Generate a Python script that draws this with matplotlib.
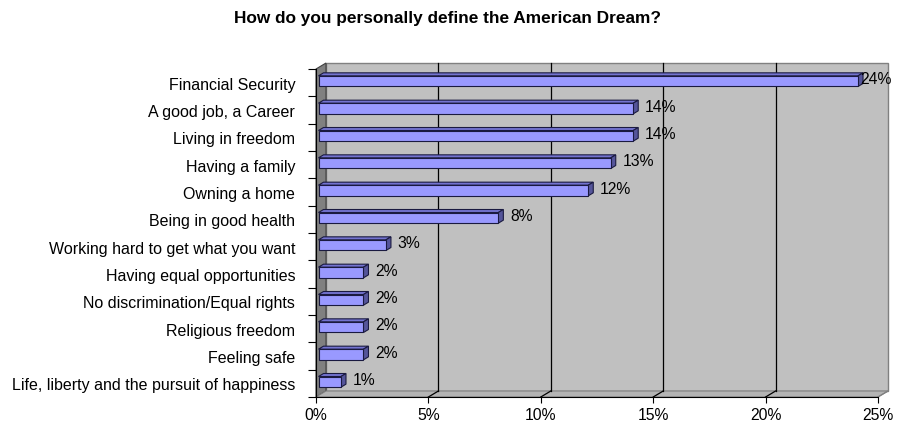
import matplotlib.pyplot as plt
from matplotlib.patches import Polygon
from matplotlib.ticker import FuncFormatter

plt.rcParams['font.family'] = ['Liberation Sans', 'DejaVu Sans']

categories = [
    "Financial Security",
    "A good job, a Career",
    "Living in freedom",
    "Having a family",
    "Owning a home",
    "Being in good health",
    "Working hard to get what you want",
    "Having equal opportunities",
    "No discrimination/Equal rights",
    "Religious freedom",
    "Feeling safe",
    "Life, liberty and the pursuit of happiness",
]
values = [24, 14, 14, 13, 12, 8, 3, 2, 2, 2, 2, 1]
xticks = [0, 5, 10, 15, 20, 25]

n = len(categories)
xmax = 25

fig = plt.figure(figsize=(8.98, 4.27), dpi=100)
ax = fig.add_axes([316 / 898, 29 / 427, 562 / 898, 328 / 427])
ax.set_xlim(0, xmax)
ax.set_ylim(n, 0)
ax.set_facecolor('none')

# 3D depth offset (data units)
dx = 10 / (562 / xmax)
dy = 6 / (328 / n)


def poly(pts, fc, ec, lw=0.8, z=1):
    p = Polygon(pts, closed=True, facecolor=fc, edgecolor=ec, linewidth=lw,
                zorder=z, clip_on=False)
    ax.add_patch(p)


# walls and floor
poly([(dx, -dy), (xmax + dx, -dy), (xmax + dx, n - dy), (dx, n - dy)],
     '#C0C0C0', '#808080', 1.0, 0)
poly([(0, 0), (dx, -dy), (dx, n - dy), (0, n)], '#808080', '#404040', 0.8, 0)
poly([(0, n), (dx, n - dy), (xmax + dx, n - dy), (xmax, n)],
     '#B4B4B4', '#808080', 0.8, 0)

# gridlines on back wall and floor
for t in xticks[1:-1]:
    ax.plot([t + dx, t + dx], [-dy, n - dy], color='black', lw=0.9,
            zorder=0.5, clip_on=False)
for t in xticks[1:]:
    ax.plot([t, t + dx], [n, n - dy], color='black' if t < xmax else '#808080',
            lw=0.9, zorder=0.5, clip_on=False)

# bars
h = 0.195
bx, by = 0.5 * dx, 0.5 * dy
for i, v in enumerate(values):
    x0 = 0.25 * dx
    c = i + 0.5 - 0.25 * dy
    ec = '#1A1A40'
    poly([(x0, c - h), (x0 + v, c - h), (x0 + v + bx, c - h - by),
          (x0 + bx, c - h - by)], '#7373D0', ec, 0.8, 2)
    poly([(x0 + v, c - h), (x0 + v + bx, c - h - by),
          (x0 + v + bx, c + h - by), (x0 + v, c + h)], '#55559A', ec, 0.8, 2)
    poly([(x0, c - h), (x0 + v, c - h), (x0 + v, c + h), (x0, c + h)],
         '#9999FF', ec, 0.8, 3)
    lx = min(x0 + v + bx + 0.3, xmax - 0.8)
    ax.text(lx, c - 0.08, f"{v}%", ha='left', va='center', fontsize=11.3,
            color='black', zorder=4, clip_on=False)

# axes
for s in ['top', 'right']:
    ax.spines[s].set_visible(False)
ax.spines['left'].set_color('black')
ax.spines['bottom'].set_color('black')
ax.spines['left'].set_zorder(5)
ax.spines['bottom'].set_zorder(5)

ax.set_xticks(xticks)
ax.xaxis.set_major_formatter(FuncFormatter(lambda x, p: f"{int(x)}%"))
ax.tick_params(axis='x', direction='out', length=4.5, width=0.8,
               labelsize=11.3, pad=3)

ax.set_yticks(range(n + 1))
ax.set_yticklabels([])
ax.set_yticks([i + 0.5 for i in range(n)], minor=True)
ax.set_yticklabels(categories, minor=True)
ax.tick_params(axis='y', which='major', direction='out', length=6, width=0.8)
ax.tick_params(axis='y', which='minor', length=0, labelsize=11.5, pad=15)

fig.text(0.498, 1 - 18 / 427, "How do you personally define the American Dream?",
         ha='center', va='center', fontsize=12.4, fontweight='bold')

fig.savefig('out.png', dpi=100, facecolor='white')
